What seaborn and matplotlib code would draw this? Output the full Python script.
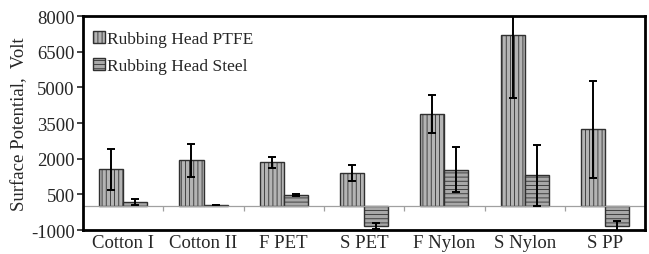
import matplotlib
matplotlib.use('Agg')
import matplotlib.pyplot as plt
import seaborn as sns
import numpy as np
import pandas as pd

# data
categories = ['Cotton I', 'Cotton II', 'F PET', 'S PET', 'F Nylon', 'S Nylon', 'S PP']
series = ['Rubbing Head PTFE', 'Rubbing Head Steel']
ptfe_mean = [1560, 1940, 1850, 1400, 3870, 7200, 3240]
ptfe_err = [860, 690, 220, 340, 790, 2650, 2040]
steel_mean = [190, 70, 480, -840, 1530, 1310, -820]
steel_err = [130, 0, 50, 130, 950, 1280, 200]
yticks = [-1000, 500, 2000, 3500, 5000, 6500, 8000]

df = pd.DataFrame({
    'material': categories * 2,
    'head': [series[0]] * len(categories) + [series[1]] * len(categories),
    'value': ptfe_mean + steel_mean,
})
errs = [ptfe_err, steel_err]

sns.set_style('white')
plt.rcParams['font.family'] = ['Liberation Serif', 'DejaVu Serif']
plt.rcParams['hatch.linewidth'] = 0.6
plt.rcParams['axes.unicode_minus'] = False

fig = plt.figure(figsize=(6.49, 2.55), dpi=100)
ax = fig.add_axes([0.128, 0.094, 0.866, 0.839])

sns.barplot(data=df, x='material', y='value', hue='head', order=categories,
            hue_order=series, width=0.6, errorbar=None, ax=ax,
            palette=['#b4b4b4', '#a8a8a8'], edgecolor='#303030', linewidth=1.0)

hatches = ['||||', '----']
for cont, h, err in zip(ax.containers, hatches, errs):
    xs = []
    for bar in cont:
        bar.set_hatch(h)
        xs.append(bar.get_x() + bar.get_width() / 2)
    vals = [b.get_y() + b.get_height() for b in cont]
    ax.errorbar(xs, vals, yerr=err, fmt='none', ecolor='black',
                elinewidth=1.4, capsize=3, capthick=1.4, zorder=5)

# zero line with category separators
ax.axhline(0, color='#a0a0a0', lw=0.9, zorder=1)
ax.vlines(np.arange(len(categories) - 1) + 0.5, -220, 0, color='#a0a0a0', lw=0.9)

ax.set_ylim(-1000, 8000)
ax.set_xlim(-0.5, len(categories) - 0.5)
ax.set_yticks(yticks)
ax.tick_params(axis='y', labelsize=13.5, length=4, width=1.2, left=True, direction='out', pad=2)
ax.tick_params(axis='x', labelsize=13.5, length=0, pad=3)
ax.set_xlabel('')
ax.set_ylabel('Surface Potential,  Volt', fontsize=13.5, labelpad=2)
for s in ax.spines.values():
    s.set_linewidth(2)
    s.set_color('black')

leg = ax.legend(loc='upper left', bbox_to_anchor=(0.0, 0.975), frameon=False,
                fontsize=12.5, handlelength=0.7, handleheight=0.7,
                handletextpad=0.15, labelspacing=0.6, borderaxespad=0.35,
                borderpad=0.2)
for p, h in zip(leg.get_patches(), hatches):
    p.set_hatch(h)

fig.savefig('out.png', dpi=100)
